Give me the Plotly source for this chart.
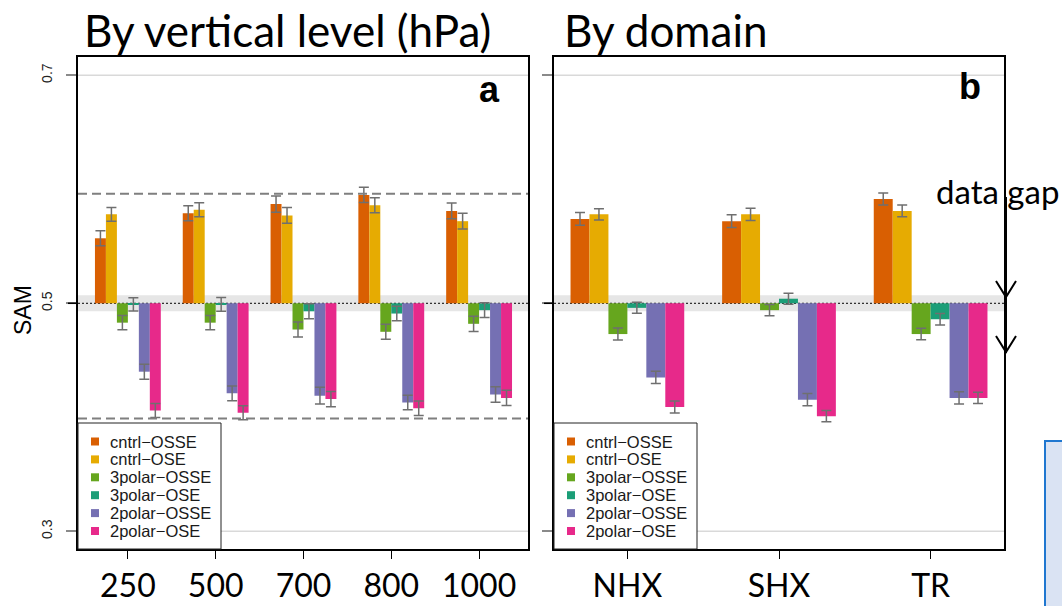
import plotly.graph_objects as go

# ---------------- data ----------------
LEVELS = ["250", "500", "700", "800", "1000"]
DOMAINS = ["NHX", "SHX", "TR"]
SERIES = ["cntrl\u2212OSSE", "cntrl\u2212OSE", "3polar\u2212OSSE", "3polar\u2212OSE", "2polar\u2212OSSE", "2polar\u2212OSE"]
COLORS = ["#D95F02", "#E6AB02", "#66A61E", "#1B9E77", "#7570B3", "#E7298A"]

# panel a: SAM by vertical level
cntrl_osse_a = [0.557, 0.579, 0.587, 0.595, 0.581]
cntrl_ose_a = [0.578, 0.582, 0.577, 0.586, 0.572]
p3_osse_a = [0.483, 0.483, 0.477, 0.475, 0.482]
p3_ose_a = [0.499, 0.499, 0.493, 0.491, 0.494]
p2_osse_a = [0.440, 0.421, 0.419, 0.413, 0.420]
p2_ose_a = [0.406, 0.404, 0.416, 0.408, 0.417]

err_cntrl_osse_a = [0.0066, 0.0066, 0.0072, 0.0067, 0.0069]
err_cntrl_ose_a = [0.0061, 0.0061, 0.0069, 0.0066, 0.0069]
err_p3_osse_a = [0.0063, 0.0063, 0.0066, 0.0066, 0.0067]
err_p3_ose_a = [0.0058, 0.0060, 0.0066, 0.0063, 0.0064]
err_p2_osse_a = [0.0066, 0.0064, 0.0073, 0.0064, 0.0069]
err_p2_ose_a = [0.0061, 0.0061, 0.0067, 0.0064, 0.0067]

# panel b: SAM by domain
cntrl_osse_b = [0.574, 0.572, 0.5915]
cntrl_ose_b = [0.578, 0.578, 0.581]
p3_osse_b = [0.473, 0.494, 0.473]
p3_ose_b = [0.496, 0.504, 0.486]
p2_osse_b = [0.435, 0.4155, 0.417]
p2_ose_b = [0.409, 0.401, 0.417]

err_cntrl_osse_b = [0.0056, 0.0056, 0.0053]
err_cntrl_ose_b = [0.0050, 0.0053, 0.0051]
err_p3_osse_b = [0.0053, 0.0050, 0.0050]
err_p3_ose_b = [0.0048, 0.0048, 0.0050]
err_p2_osse_b = [0.0053, 0.0053, 0.0054]
err_p2_ose_b = [0.0053, 0.0050, 0.0050]

REF = 0.5                 # reference SAM value (bars start here)
BAND = 0.007              # half-width of grey band around 0.5
DASH_LEVELS = [0.596, 0.399]
YTICKS = [0.3, 0.5, 0.7]
GRID_LEVELS = [0.3, 0.7]
YRANGE = [0.2845, 0.716]

vals_a = [cntrl_osse_a, cntrl_ose_a, p3_osse_a, p3_ose_a, p2_osse_a, p2_ose_a]
errs_a = [err_cntrl_osse_a, err_cntrl_ose_a, err_p3_osse_a, err_p3_ose_a, err_p2_osse_a, err_p2_ose_a]
vals_b = [cntrl_osse_b, cntrl_ose_b, p3_osse_b, p3_ose_b, p2_osse_b, p2_ose_b]
errs_b = [err_cntrl_osse_b, err_cntrl_ose_b, err_p3_osse_b, err_p3_ose_b, err_p2_osse_b, err_p2_ose_b]

# ---------------- layout geometry ----------------
W, H = 1062, 606
ML, MR, MT, MB = 78, 58, 57, 57
PW, PH = W - ML - MR, H - MT - MB
PANEL_W = 450


def px(x):
    return (x - ML) / PW


def py(y):
    return (H - MB - y) / PH


fig = go.Figure()

err_style = dict(type="data", color="#6f6f6f", thickness=1.5, width=5)

for i in range(6):
    fig.add_trace(go.Bar(
        x=LEVELS, y=[v - REF for v in vals_a[i]], name=SERIES[i],
        marker=dict(color=COLORS[i], line=dict(width=0)),
        error_y=dict(array=errs_a[i], **err_style),
        xaxis="x", yaxis="y", showlegend=False))
for i in range(6):
    fig.add_trace(go.Bar(
        x=DOMAINS, y=[v - REF for v in vals_b[i]], name=SERIES[i],
        marker=dict(color=COLORS[i], line=dict(width=0)),
        error_y=dict(array=errs_b[i], **err_style),
        xaxis="x2", yaxis="y2", showlegend=False))

yaxis_common = dict(
    range=[YRANGE[0] - REF, YRANGE[1] - REF], automargin=False,
    tickvals=[t - REF for t in YTICKS], ticktext=[f"{t:.1f}" for t in YTICKS],
    tickangle=-90, ticks="outside", ticklen=10, tickwidth=1.5, tickcolor="#8a8a8a",
    ticklabelstandoff=9,
    showgrid=False, zeroline=False,
    showline=True, mirror=True, linecolor="black", linewidth=1.5,
    tickfont=dict(family="Liberation Sans", size=14, color="#222"),
)
xaxis_common = dict(
    type="category", automargin=False,
    ticks="outside", ticklen=8, tickcolor="black", tickwidth=1,
    showline=True, mirror=True, linecolor="black", linewidth=1.5, showgrid=False,
    tickfont=dict(family="Lato", size=32, color="black"),
)

d1 = PANEL_W / PW
d2 = 1 - PANEL_W / PW
fig.update_layout(
    width=W, height=H,
    margin=dict(l=ML, r=MR, t=MT, b=MB, autoexpand=False),
    paper_bgcolor="white", plot_bgcolor="white",
    barmode="group", bargap=0.25, bargroupgap=0,
    xaxis=dict(domain=[0, d1], range=[-0.568, 4.557], anchor="y", **xaxis_common),
    xaxis2=dict(domain=[d2, 1], range=[-0.484, 2.484], anchor="y2", **xaxis_common),
    yaxis=dict(domain=[0, 1], anchor="x", **yaxis_common),
    yaxis2=dict(domain=[0, 1], anchor="x2", showticklabels=False,
                **{k: v for k, v in yaxis_common.items() if k != "tickfont"}),
)

shapes = []
for xr, yr in [("x domain", "y"), ("x2 domain", "y2")]:
    for g in GRID_LEVELS:
        shapes.append(dict(type="line", xref=xr, yref=yr, x0=0, x1=1, y0=g - REF, y1=g - REF,
                           line=dict(color="#d9d9d9", width=1.5), layer="below"))
    shapes.append(dict(type="rect", xref=xr, yref=yr, x0=0, x1=1,
                       y0=-BAND, y1=BAND, fillcolor="#e6e6e6",
                       line=dict(width=0), layer="below"))
    shapes.append(dict(type="line", xref=xr, yref=yr, x0=0, x1=1, y0=0, y1=0,
                       line=dict(color="black", width=1, dash="2px,2px"), layer="below"))
    shapes.append(dict(type="line", xref=xr, yref=yr, x0=-10 / PANEL_W, x1=0, y0=0, y1=0,
                       line=dict(color="black", width=1.5), layer="above"))
for lev in DASH_LEVELS:
    shapes.append(dict(type="line", xref="x domain", yref="y", x0=0, x1=1,
                       y0=lev - REF, y1=lev - REF,
                       line=dict(color="#7f7f7f", width=2, dash="9px,5px"), layer="above"))

annotations = []
# legends (one per panel)
ROW0, ROWSTEP = 441.5, 17.9
for left in [ML, ML + PW - PANEL_W]:
    shapes.append(dict(type="rect", xref="paper", yref="paper",
                       x0=px(left), x1=px(left + 143), y0=py(423), y1=py(549),
                       fillcolor="white", line=dict(color="#222", width=1), layer="above"))
    for k in range(6):
        yc = ROW0 + ROWSTEP * k
        shapes.append(dict(type="rect", xref="paper", yref="paper",
                           x0=px(left + 13), x1=px(left + 21), y0=py(yc + 4), y1=py(yc - 4),
                           fillcolor=COLORS[k], line=dict(width=0), layer="above"))
        annotations.append(dict(xref="paper", yref="paper", x=px(left + 30), y=py(yc),
                                xanchor="left", yanchor="middle", showarrow=False,
                                text=SERIES[k],
                                font=dict(family="Liberation Sans", size=16.5, color="#1a1a1a")))

# data gap arrow
ax = 1006
shapes.append(dict(type="line", xref="paper", yref="paper", x0=px(ax), x1=px(ax),
                   y0=py(197), y1=py(353), line=dict(color="black", width=2), layer="above"))
for tip in [297, 352]:
    shapes.append(dict(type="path", xref="paper", yref="paper",
                       path=f"M {px(ax-10)},{py(tip-16)} L {px(ax)},{py(tip)} L {px(ax+10)},{py(tip-16)}",
                       line=dict(color="black", width=2), layer="above"))

# blue box at bottom right (partly outside the picture)
shapes.append(dict(type="rect", xref="paper", yref="paper",
                   x0=px(1045), x1=px(1064), y0=py(441), y1=py(608),
                   fillcolor="#dae3f3", line=dict(color="#1f77d0", width=2), layer="above"))

annotations += [
    dict(xref="paper", yref="paper", x=px(82), y=py(30), xanchor="left", yanchor="middle",
         showarrow=False, text="By vertical level (hPa)",
         font=dict(family="Lato", size=44, color="black")),
    dict(xref="paper", yref="paper", x=px(562), y=py(30), xanchor="left", yanchor="middle",
         showarrow=False, text="By domain",
         font=dict(family="Lato", size=44, color="black")),
    dict(xref="paper", yref="paper", x=px(489), y=py(90), xanchor="center", yanchor="middle",
         showarrow=False, text="<b>a</b>",
         font=dict(family="Liberation Sans", size=36, color="black")),
    dict(xref="paper", yref="paper", x=px(970), y=py(86), xanchor="center", yanchor="middle",
         showarrow=False, text="<b>b</b>",
         font=dict(family="Liberation Sans", size=36, color="black")),
    dict(xref="paper", yref="paper", x=px(23), y=py(310), xanchor="center", yanchor="middle",
         showarrow=False, text="SAM", textangle=-90,
         font=dict(family="Liberation Sans", size=23, color="black")),
    dict(xref="paper", yref="paper", x=px(934), y=py(191), xanchor="left", yanchor="middle",
         showarrow=False, text="data gap",
         font=dict(family="Lato", size=33, color="black")),
]

fig.update_layout(shapes=shapes, annotations=annotations)
fig.write_html("out.html")
